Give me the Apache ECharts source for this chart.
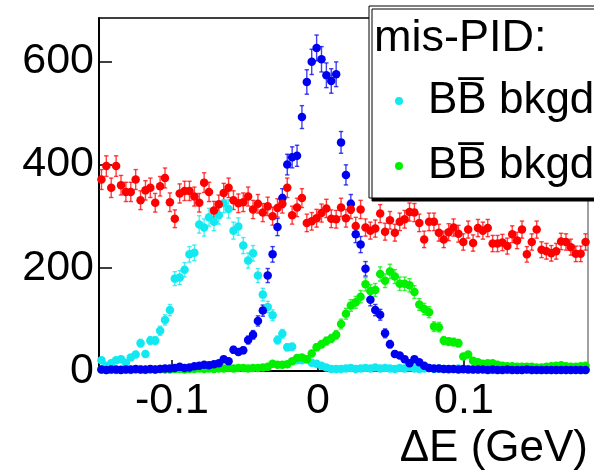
<!DOCTYPE html>
<html><head><meta charset="utf-8">
<script src="https://cdn.jsdelivr.net/npm/echarts@6/dist/echarts.min.js"></script>
<style>html,body{margin:0;padding:0;background:#fff}#c{width:594px;height:476px}</style>
</head><body><div id="c"></div>
<script>
// histogram binning (Delta E, GeV)
const binLow = -0.15;
const binWidth = 0.00335;
const xMin = -0.15, xMax = 0.185;
const yMax = 684;
const xTickValues = [-0.1, 0, 0.1];
const xTickLabels = ['-0.1', '0', '0.1'];
const yTickValues = [0, 200, 400, 600];

// red: combinatorial / continuum
const redCounts = [
  371,397,355,397,360,347,347,371,331,350,355,326,358,374,327,295,344,349,349,338,326,365,347,311,323,
  345,355,331,325,327,338,313,324,307,319,300,316,324,355,302,317,335,287,290,296,306,315,295,294,317,
  296,313,281,313,278,272,276,305,270,292,268,289,294,308,307,287,255,289,289,268,255,269,278,266,250,
  274,248,277,272,277,247,247,249,242,265,253,274,226,250,274,235,232,228,232,251,250,240,227,227,250
];
// cyan: mis-PID BBbar bkgd (left)
const cyanCounts = [
  21,10,15,21,23,16,26,32,54,33,59,59,78,99,118,179,181,196,226,229,284,278,298,289,302,
  325,314,272,280,243,214,228,185,148,124,108,60,72,46,47,21,21,23,16,14,10,7,4,4,4,
  5,6,4,5,6,5,7,5,6,5,4,6,5,7,5,4,5,6,4,5,4,3,4,5,3,
  4,3,3,4,3,2,3,3,2,3,3,2,3,2,3,2,3,2,2,3,2,2,3,2,2
];
// green: mis-PID BBbar bkgd (right)
const greenCounts = [
  3,2,3,2,3,3,2,3,3,2,3,3,4,3,3,4,4,3,4,4,5,4,5,4,5,5,6,5,6,6,
  5,6,6,7,8,14,12,12,13,19,25,26,23,34,46,52,58,63,70,91,
  111,127,133,144,168,155,157,188,175,193,183,169,169,166,153,129,120,114,86,85,59,57,56,54,28,
  32,20,17,14,15,15,12,10,9,9,8,8,8,8,7,7,8,9,10,11,9,8,8,9,10
];
// blue: signal
const blueCounts = [
  3,2,3,3,2,3,3,4,3,3,4,3,4,5,5,6,8,6,7,9,10,12,11,13,
  15,23,19,41,37,40,60,70,97,117,185,226,279,335,
  400,414,417,492,560,599,626,604,573,562,575,443,380,
  324,265,245,198,138,118,109,73,52,33,30,23,15,23,17,10,6,
  5,5,4,4,4,3,4,3,3,3,3,2,3,2,2,3,2,2,2,3,2,2,2,2,2,2,2,2,2,2,2,2
];

const legendTitle = 'mis-PID:';
const legendNames = ['BB\u0305 bkgd', 'BB\u0305 bkgd\u200b'];
const axisTitle = '\u0394E (GeV)';

const FONT = 'Liberation Sans';
const centers = redCounts.map((_, i) => binLow + binWidth * (i + 0.5));

function pts(counts) { return counts.map((v, i) => [centers[i], v]); }
function errs(counts) { return counts.map((v, i) => { const e = Math.sqrt(v); return [centers[i], v - e, v + e]; }); }

function errSeries(counts, color) {
  return {
    type: 'custom', silent: true, clip: true,
    data: errs(counts),
    encode: { x: 0, y: [1, 2] },
    renderItem: function (params, api) {
      const x = api.value(0);
      const p1 = api.coord([x, api.value(2)]);
      const p2 = api.coord([x, api.value(1)]);
      const cw = 2.2;
      const st = { stroke: color, lineWidth: 1.4, opacity: 0.75 };
      return { type: 'group', children: [
        { type: 'line', shape: { x1: p1[0], y1: p1[1], x2: p2[0], y2: p2[1] }, style: st },
        { type: 'line', shape: { x1: p1[0] - cw, y1: p1[1], x2: p1[0] + cw, y2: p1[1] }, style: st },
        { type: 'line', shape: { x1: p2[0] - cw, y1: p2[1], x2: p2[0] + cw, y2: p2[1] }, style: st }
      ]};
    }
  };
}
function ptSeries(counts, color, name) {
  return { type: 'scatter', name: name, data: pts(counts), symbol: 'circle', symbolSize: 8.5,
    itemStyle: { color: color, opacity: 1 }, clip: false, silent: true, animation: false };
}

const C_CYAN = '#12e8f0', C_GREEN = '#00f000', C_BLUE = '#0000f0', C_RED = '#ff0000';

const chart = echarts.init(document.getElementById('c'), null, { renderer: 'canvas' });
chart.setOption({
  animation: false,
  backgroundColor: '#fff',
  grid: { left: 99, right: 6, top: 18, bottom: 105, containLabel: false, outerBoundsMode: 'none' },
  title: [
    { text: axisTitle, right: 6, top: 427, padding: 0,
      textStyle: { fontFamily: FONT, fontSize: 44, fontWeight: 'normal', color: '#000' } },
    { text: legendTitle, left: 374, top: 16, padding: 0, z: 10,
      textStyle: { fontFamily: FONT, fontSize: 45, fontWeight: 'normal', color: '#000' } }
  ],
  legend: {
    left: 369, top: 6, orient: 'vertical', icon: 'circle', itemWidth: 8, itemHeight: 8, itemGap: 21,
    padding: [73, 80, 10, 26], backgroundColor: '#fff', borderColor: '#000', borderWidth: 1,
    shadowColor: '#000', shadowOffsetX: 3, shadowOffsetY: 3, shadowBlur: 0,
    selectedMode: false,
    formatter: n => n.replace(/\u200b/g, ''),
    textStyle: { fontFamily: FONT, fontSize: 44, color: '#000', padding: [0, 0, 0, 20] },
    data: legendNames
  },
  xAxis: [{
    type: 'value', min: xMin, max: xMax, interval: 0.05,
    axisLine: { show: true, onZero: false, lineStyle: { color: '#000', width: 2 } },
    axisTick: { show: true, inside: true, length: 11, customValues: xTickValues, lineStyle: { color: '#000', width: 1.5 } },
    axisLabel: { show: true, customValues: xTickValues, margin: 9,
      formatter: v => { const k = xTickValues.findIndex(t => Math.abs(t - v) < 1e-9); return k >= 0 ? xTickLabels[k] : ''; },
      fontFamily: FONT, fontSize: 43, color: '#000' },
    splitLine: { show: false }
  }, {
    type: 'value', position: 'top', min: xMin, max: xMax,
    axisLine: { show: true, onZero: false, lineStyle: { color: '#000', width: 1.5 } },
    axisTick: { show: false }, axisLabel: { show: false }, splitLine: { show: false }
  }],
  yAxis: [{
    type: 'value', min: 0, max: yMax, interval: 200,
    axisLine: { show: true, onZero: false, lineStyle: { color: '#000', width: 2 } },
    axisTick: { show: true, inside: true, length: 13, customValues: yTickValues, lineStyle: { color: '#000', width: 1.5 } },
    axisLabel: { show: true, customValues: yTickValues, margin: 5, fontFamily: FONT, fontSize: 43, color: '#000' },
    splitLine: { show: false }
  }, {
    type: 'value', position: 'right', min: 0, max: yMax,
    axisLine: { show: true, onZero: false, lineStyle: { color: '#808080', width: 1.5 } },
    axisTick: { show: false }, axisLabel: { show: false }, splitLine: { show: false }
  }],
  series: [
    errSeries(cyanCounts, C_CYAN), ptSeries(cyanCounts, C_CYAN, legendNames[0]),
    errSeries(greenCounts, C_GREEN), ptSeries(greenCounts, C_GREEN, legendNames[1]),
    errSeries(blueCounts, C_BLUE), ptSeries(blueCounts, C_BLUE, 'signal'),
    errSeries(redCounts, C_RED), ptSeries(redCounts, C_RED, 'continuum')
  ]
});
</script></body></html>
